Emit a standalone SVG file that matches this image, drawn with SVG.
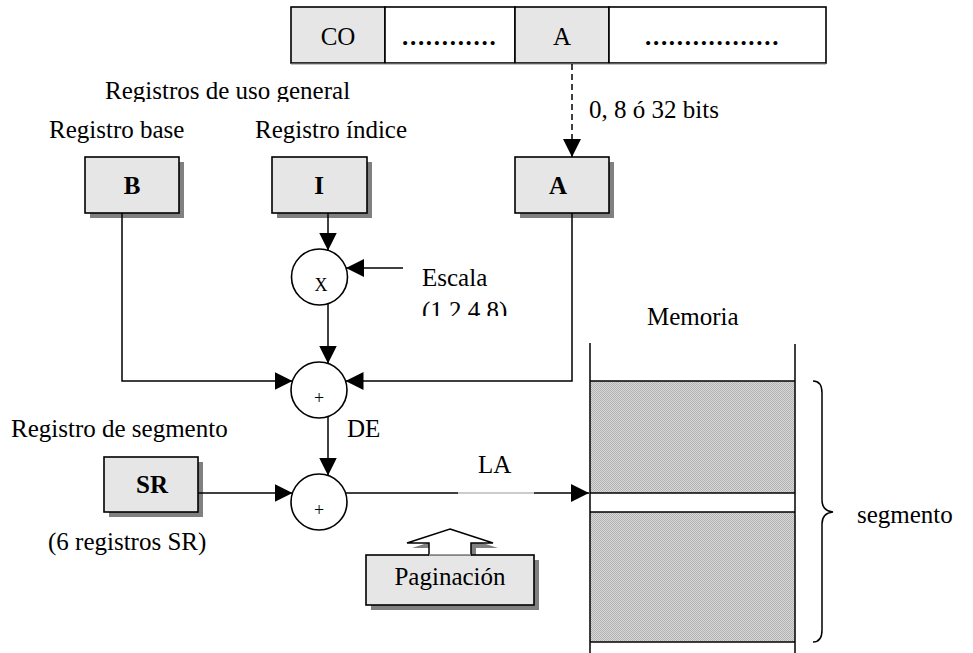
<svg xmlns="http://www.w3.org/2000/svg" width="973" height="653" viewBox="0 0 973 653">
<style>
  text { font-family: "Liberation Serif", "Times New Roman", serif; font-size: 25px; fill: #000; }
  .b { font-weight: bold; font-size: 25px; }
  .dots { font-weight: bold; font-size: 25px; letter-spacing: 1.7px; }
  .sm { font-size: 18px; }
  .box { fill: #e6e6e6; stroke: #000; stroke-width: 1.6; }
  .shadow { fill: #808080; }
  .ln { fill: none; stroke: #000; stroke-width: 1.5; }
  .circ { fill: #fff; stroke: #000; stroke-width: 1.6; }
  .mid { text-anchor: middle; }
</style>
<defs>
  <marker id="ah" markerUnits="userSpaceOnUse" markerWidth="18" markerHeight="18" refX="18" refY="9" orient="auto">
    <path d="M0,0 L18,9 L0,18 z" fill="#000"/>
  </marker>
  <pattern id="mem" width="2" height="2" patternUnits="userSpaceOnUse">
    <rect width="2" height="2" fill="#d8d8d8"/>
    <rect width="1" height="1" fill="#b2b2b2"/>
    <rect x="1" y="1" width="1" height="1" fill="#b2b2b2"/>
  </pattern>
  <clipPath id="clipTop"><rect x="0" y="60" width="420" height="42"/></clipPath>
  <clipPath id="clipEsc"><rect x="400" y="290" width="200" height="26"/></clipPath>
</defs>
<rect width="973" height="653" fill="#fff"/>

<!-- Instruction format -->
<g id="instr">
  <rect x="291" y="7" width="94" height="56" class="box"/>
  <rect x="385" y="7" width="130" height="56" fill="#fff" stroke="#000" stroke-width="1.6"/>
  <rect x="515" y="7" width="94" height="56" class="box"/>
  <rect x="609" y="7" width="217" height="56" fill="#fff" stroke="#000" stroke-width="1.6"/>
  <line x1="291" y1="64" x2="826" y2="64" stroke="#888" stroke-width="1"/>
  <text x="338" y="45" class="mid">CO</text>
  <text x="402" y="45" class="dots">............</text>
  <text x="562" y="45" class="mid">A</text>
  <text x="645" y="45" class="dots">.................</text>
</g>

<!-- labels -->
<g id="labels">
  <text x="105" y="99" clip-path="url(#clipTop)">Registros de uso general</text>
  <text x="49" y="138">Registro base</text>
  <text x="255" y="138">Registro índice</text>
  <text x="589" y="118">0, 8 ó 32 bits</text>
  <text x="422" y="286">Escala</text>
  <text x="422" y="319" clip-path="url(#clipEsc)">(1.2.4.8)</text>
  <text x="647" y="325">Memoria</text>
  <text x="11" y="437">Registro de segmento</text>
  <text x="48" y="550">(6 registros SR)</text>
  <text x="347" y="437">DE</text>
  <text x="478" y="473">LA</text>
  <text x="857" y="523">segmento</text>
</g>

<!-- Register boxes -->
<g id="B">
  <rect x="90" y="162" width="94" height="56" class="shadow"/>
  <rect x="85" y="157" width="94" height="56" class="box"/>
  <text x="132" y="194" class="b mid">B</text>
</g>
<g id="I">
  <rect x="277" y="162" width="95" height="56" class="shadow"/>
  <rect x="272" y="157" width="95" height="56" class="box"/>
  <text x="319" y="194" class="b mid">I</text>
</g>
<g id="A">
  <rect x="520" y="162" width="94" height="56" class="shadow"/>
  <rect x="515" y="157" width="94" height="56" class="box"/>
  <text x="558" y="194" class="b mid">A</text>
</g>
<g id="SR">
  <rect x="109" y="462" width="94" height="55" class="shadow"/>
  <rect x="104" y="457" width="94" height="55" class="box"/>
  <text x="152" y="493" class="b mid">SR</text>
</g>

<!-- operators -->
<g id="mul">
  <circle cx="319.5" cy="277" r="28" class="circ"/>
  <text x="321" y="291" class="sm mid">X</text>
</g>
<g id="add1">
  <circle cx="319" cy="390" r="28" class="circ"/>
  <text x="319" y="404" class="sm mid">+</text>
</g>
<g id="add2">
  <circle cx="319" cy="502" r="28" class="circ"/>
  <text x="319" y="516" class="sm mid">+</text>
</g>

<!-- Paginacion -->
<g id="paginacion">
  <polygon points="455,534 498,548 476,548 476,560 434,560 434,548 412,548" class="shadow"/>
  <rect x="371" y="560" width="168" height="50" class="shadow"/>
  <rect x="366" y="555" width="168" height="50" class="box"/>
  <polygon points="450,529 493,543 471,543 471,555 429,555 429,543 407,543" fill="#fff" stroke="#000" stroke-width="1.5" stroke-linejoin="miter"/>
  <line x1="429" y1="555" x2="471" y2="555" stroke="#fff" stroke-width="1"/>
  <text x="450" y="585" class="mid">Paginación</text>
</g>

<!-- Memory -->
<g id="memoria">
  <rect x="590" y="381" width="205" height="112" fill="url(#mem)"/>
  <rect x="590" y="512" width="205" height="130" fill="url(#mem)"/>
  <line x1="590" y1="343" x2="590" y2="653" class="ln" stroke-width="1.8"/>
  <line x1="795" y1="344" x2="795" y2="653" class="ln" stroke-width="1.8"/>
  <line x1="590" y1="381" x2="795" y2="381" class="ln"/>
  <line x1="590" y1="493" x2="795" y2="493" class="ln"/>
  <line x1="590" y1="512" x2="795" y2="512" class="ln"/>
  <line x1="590" y1="642" x2="795" y2="642" class="ln"/>
  <path d="M813,381 Q822,381 822,393 L822,500 Q822,511 833,512 Q822,513 822,524 L822,630 Q822,642 813,642" class="ln"/>
</g>

<!-- Connectors -->
<g id="connectors">
  <line x1="572" y1="64" x2="572" y2="157" class="ln" stroke-dasharray="6,4" marker-end="url(#ah)"/>
  <line x1="328" y1="213" x2="328" y2="250.5" class="ln" marker-end="url(#ah)"/>
  <line x1="403" y1="268" x2="346" y2="268" class="ln" marker-end="url(#ah)"/>
  <line x1="328" y1="304" x2="328" y2="363.5" class="ln" marker-end="url(#ah)"/>
  <polyline points="122,213 122,381 292.5,381" class="ln" marker-end="url(#ah)"/>
  <polyline points="572,213 572,381 345.5,381" class="ln" marker-end="url(#ah)"/>
  <line x1="328" y1="416.5" x2="328" y2="475.5" class="ln" marker-end="url(#ah)"/>
  <line x1="198" y1="493" x2="292.5" y2="493" class="ln" marker-end="url(#ah)"/>
  <line x1="345.5" y1="493" x2="458" y2="493" class="ln"/>
  <line x1="458" y1="493" x2="534" y2="493" stroke="#999" stroke-width="1"/>
  <line x1="534" y1="493" x2="589" y2="493" class="ln" marker-end="url(#ah)"/>
</g>
</svg>
